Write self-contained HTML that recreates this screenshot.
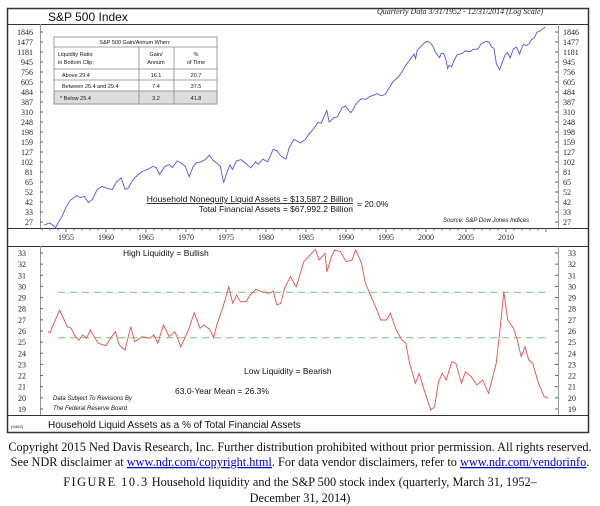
<!DOCTYPE html>
<html><head><meta charset="utf-8">
<style>
body{margin:0;background:#fff;width:600px;height:506px;overflow:hidden}
svg{display:block}
.t{font-family:"Liberation Serif",serif;font-size:8px;fill:#222}
.s{font-family:"Liberation Sans",sans-serif;fill:#111}
.cap{font-family:"Liberation Serif",serif;font-size:12.3px;fill:#111}
</style></head><body>
<svg id="c" width="600" height="506" xmlns="http://www.w3.org/2000/svg">
<rect x="0" y="0" width="600" height="506" fill="#fff"/>
<g fill="none" stroke="#333">
<rect x="7.5" y="8.5" width="581" height="424" stroke-width="1.5"/>
<line x1="7" y1="24.5" x2="589" y2="24.5"/>
<line x1="7" y1="228.5" x2="589" y2="228.5"/>
<line x1="7" y1="246.5" x2="589" y2="246.5"/>
<line x1="7" y1="415.5" x2="589" y2="415.5"/>
<line x1="40.5" y1="24" x2="40.5" y2="228" stroke="#999"/>
<line x1="558.5" y1="24" x2="558.5" y2="228" stroke="#999"/>
<line x1="40.5" y1="246" x2="40.5" y2="415" stroke="#999"/>
<line x1="558.5" y1="246" x2="558.5" y2="415" stroke="#999"/>
</g>
<text x="48" y="21" class="s" font-size="12">S&amp;P 500 Index</text>
<text x="377" y="14" class="t" font-size="7" font-style="italic">Quarterly Data 3/31/1952 - 12/31/2014 (Log Scale)</text>
<g stroke="#888" fill="none" stroke-width="0.8">
<rect x="54" y="37" width="163" height="67" fill="#fff"/>
<rect x="54" y="91" width="163" height="13" fill="#ddd"/>
<line x1="54" y1="47" x2="217" y2="47"/>
<line x1="54" y1="69" x2="217" y2="69"/>
<line x1="54" y1="80" x2="217" y2="80"/>
<line x1="139" y1="47" x2="139" y2="104"/>
<line x1="174" y1="47" x2="174" y2="104"/>
</g>
<g class="s" font-size="5.5">
<text x="135" y="44" text-anchor="middle">S&amp;P 500 Gain/Annum When:</text>
<text x="58" y="56">Liquidity Ratio</text><text x="58" y="64">in Bottom Clip:</text>
<text x="156" y="56" text-anchor="middle">Gain/</text><text x="156" y="64" text-anchor="middle">Annum</text>
<text x="196" y="56" text-anchor="middle">%</text><text x="196" y="64" text-anchor="middle">of Time</text>
<text x="62" y="77">Above 29.4</text><text x="156" y="77" text-anchor="middle">16.1</text><text x="196" y="77" text-anchor="middle">20.7</text>
<text x="62" y="88">Between 25.4 and 29.4</text><text x="156" y="88" text-anchor="middle">7.4</text><text x="196" y="88" text-anchor="middle">37.5</text>
<text x="60" y="100">* Below 25.4</text><text x="156" y="100" text-anchor="middle">3.2</text><text x="196" y="100" text-anchor="middle">41.8</text>
</g>
<g class="s" font-size="8.5">
<text x="353" y="202" text-anchor="end" text-decoration="underline">Household Nonequity Liquid Assets = $13,587.2 Billion</text>
<text x="353" y="212" text-anchor="end">Total Financial Assets = $67,992.2 Billion</text>
<text x="357" y="207">= 20.0%</text>
<text x="123" y="256">High Liquidity = Bullish</text>
<text x="244" y="374">Low Liquidity = Bearish</text>
<text x="175" y="394">63.0-Year Mean = 26.3%</text>
</g>
<text x="443" y="222" class="s" font-size="6" font-style="italic">Source: S&amp;P Dow Jones Indices</text>
<text x="53" y="400" class="s" font-size="6" font-style="italic">Data Subject To Revisions By</text>
<text x="53" y="410" class="s" font-size="6" font-style="italic">The Federal Reserve Board</text>
<text x="48" y="428" class="s" font-size="10">Household Liquid Assets as a % of Total Financial Assets</text>
<text x="11" y="428" class="s" font-size="4" fill="#44c">(S462)</text>
<g id="dyn"></g>
<text x="300" y="451" class="cap" text-anchor="middle">Copyright 2015 Ned Davis Research, Inc. Further distribution prohibited without prior permission. All rights reserved.</text>
<text x="300" y="466" class="cap" text-anchor="middle">See NDR disclaimer at <tspan fill="#00c" text-decoration="underline">www.ndr.com/copyright.html</tspan>. For data vendor disclaimers, refer to <tspan fill="#00c" text-decoration="underline">www.ndr.com/vendorinfo</tspan>.</text>
<text x="300" y="486" class="cap" font-size="13" text-anchor="middle"><tspan letter-spacing="1.5">FIGURE 10.3</tspan> Household liquidity and the S&amp;P 500 stock index (quarterly, March 31, 1952–</text>
<text x="300" y="502" class="cap" font-size="13" text-anchor="middle">December 31, 2014)</text>
</svg>
<script>
var g=document.getElementById("dyn"),h="";
function X(y){return 66+(y-1955)*8.0;}
var tl=[1846,1477,1181,945,756,605,484,387,310,248,198,159,127,102,81,65,52,42,33,27];
tl.forEach(function(v,i){var y=32+i*10;
h+='<text x="33" y="'+(y+3)+'" class="t" text-anchor="end">'+v+'</text>';
h+='<text x="563" y="'+(y+3)+'" class="t">'+v+'</text>';
h+='<line x1="40" x2="43" y1="'+y+'" y2="'+y+'" stroke="#666"/><line x1="555" x2="558" y1="'+y+'" y2="'+y+'" stroke="#666"/>';});
for(var v=19;v<=33;v++){var y=253+(33-v)*11.14;
h+='<text x="26" y="'+(y+3)+'" class="t" text-anchor="end">'+v+'</text>';
h+='<text x="568" y="'+(y+3)+'" class="t">'+v+'</text>';
h+='<line x1="40" x2="43" y1="'+y+'" y2="'+y+'" stroke="#666"/><line x1="555" x2="558" y1="'+y+'" y2="'+y+'" stroke="#666"/>';}
for(var yr=1952;yr<=2015;yr++){var x=X(yr);h+='<line x1="'+x+'" x2="'+x+'" y1="228" y2="'+(yr%5?230.5:232)+'" stroke="#666"/>';
if(yr%5==0&&yr>=1955&&yr<=2010)h+='<text x="'+x+'" y="240" class="t" font-size="6.5" text-anchor="middle">'+yr+'</text>';}
var sp=[[1952.25,25],[1953,26],[1953.7,23.5],[1954,26],[1954.5,30],[1955,37],[1955.5,43],[1956.3,48],[1956.8,46],[1957.3,47],[1957.8,41],[1958.3,44],[1958.9,55],[1959.5,59],[1960,57],[1960.8,55],[1961.3,65],[1961.9,71],[1962.4,55],[1962.8,57],[1963.3,67],[1963.9,75],[1964.5,82],[1965.2,86],[1965.9,92],[1966.3,89],[1966.7,77],[1967.3,91],[1967.9,96],[1968.3,90],[1968.9,104],[1969.5,98],[1969.9,92],[1970.4,73],[1970.9,92],[1971.3,100],[1971.9,102],[1972.4,107],[1972.9,118],[1973.4,105],[1973.8,100],[1974.3,92],[1974.7,64],[1975.1,80],[1975.5,95],[1975.8,86],[1976.3,104],[1976.9,107],[1977.5,98],[1978.1,89],[1978.7,102],[1979,96],[1979.6,108],[1980.2,102],[1980.9,135],[1981.4,130],[1981.8,117],[1982.5,108],[1982.9,140],[1983.5,168],[1984.3,155],[1984.9,167],[1985.4,191],[1985.9,211],[1986.5,245],[1986.9,242],[1987.6,321],[1987.9,247],[1988.5,273],[1988.9,277],[1989.5,340],[1989.9,353],[1990.6,305],[1990.9,330],[1991.3,375],[1991.9,417],[1992.5,410],[1992.9,435],[1993.9,466],[1994.4,445],[1994.9,459],[1995.5,545],[1995.9,615],[1996.5,670],[1996.9,740],[1997.5,885],[1997.9,970],[1998.5,1130],[1998.7,1017],[1998.9,1229],[1999.5,1372],[1999.9,1469],[2000.2,1499],[2000.6,1436],[2000.9,1320],[2001.2,1160],[2001.7,1040],[2001.9,1148],[2002.2,1147],[2002.5,990],[2002.7,815],[2002.9,880],[2003.2,848],[2003.5,975],[2003.9,1112],[2004.5,1140],[2004.9,1212],[2005.5,1191],[2005.9,1248],[2006.5,1270],[2006.9,1418],[2007.5,1503],[2007.9,1468],[2008.2,1322],[2008.5,1280],[2008.8,903],[2009.2,797],[2009.5,919],[2009.9,1115],[2010.2,1169],[2010.5,1030],[2010.9,1258],[2011.3,1320],[2011.7,1131],[2011.9,1258],[2012.2,1408],[2012.5,1362],[2012.9,1426],[2013.2,1569],[2013.5,1606],[2013.9,1848],[2014.2,1872],[2014.5,1960],[2014.9,2059]];
var p=sp.map(function(d){return X(d[0]).toFixed(1)+','+(32+10*Math.log(1846/d[1])/Math.log(1.25)).toFixed(1);}).join(' ');
h+='<polyline points="'+p+'" fill="none" stroke="#5555dd" stroke-width="0.9"/>';
h+='<line x1="58" x2="548" y1="292.3" y2="292.3" stroke="#8c8" stroke-width="1.2" stroke-dasharray="7,5"/>';
h+='<line x1="58" x2="548" y1="337.7" y2="337.7" stroke="#8c8" stroke-width="1.2" stroke-dasharray="7,5"/>';
var L=[[125,305],[130,308],[155,240],[175,290],[185,295],[195,318],[205,330],[215,315],[225,325],[235,300],[245,320],[255,340],[275,347],[290,320],[300,305],[310,345],[325,360],[340,290],[350,335],[370,320],[390,325],[400,315],[410,340],[425,285],[440,320],[455,305],[470,350],[490,300],[505,248],[520,295],[530,285],[545,298],[555,323],[565,280],[580,230],[595,170],[605,220],[615,195],[625,215],[640,215],[650,195],[665,178],[680,185],[700,190],[710,183],[720,225],[730,220],[740,175],[755,140],[770,170],[790,95],[810,70],[820,58],[830,90],[845,70],[850,125],[862,80],[870,60],[885,65],[900,95],[915,90],[925,60],[940,100],[950,160],[965,200],[980,240],[990,270],[1005,270],[1015,250],[1030,300],[1045,330],[1055,340],[1065,400],[1080,460],[1090,430],[1100,470],[1110,505],[1120,540],[1130,530],[1140,455],[1150,430],[1160,450],[1175,395],[1185,400],[1200,460],[1210,425],[1225,440],[1240,465],[1255,450],[1270,490],[1290,400],[1300,300],[1310,185],[1320,270],[1335,295],[1345,330],[1355,380],[1365,350],[1375,390],[1385,400],[1400,460],[1415,500],[1425,505]];
p=L.map(function(d){return (d[0]/2.6).toFixed(1)+','+(230+d[1]/3).toFixed(1);}).join(' ');
h+='<polyline points="'+p+'" fill="none" stroke="#e05050" stroke-width="0.9"/>';
g.innerHTML=h;
</script>
</body></html>
